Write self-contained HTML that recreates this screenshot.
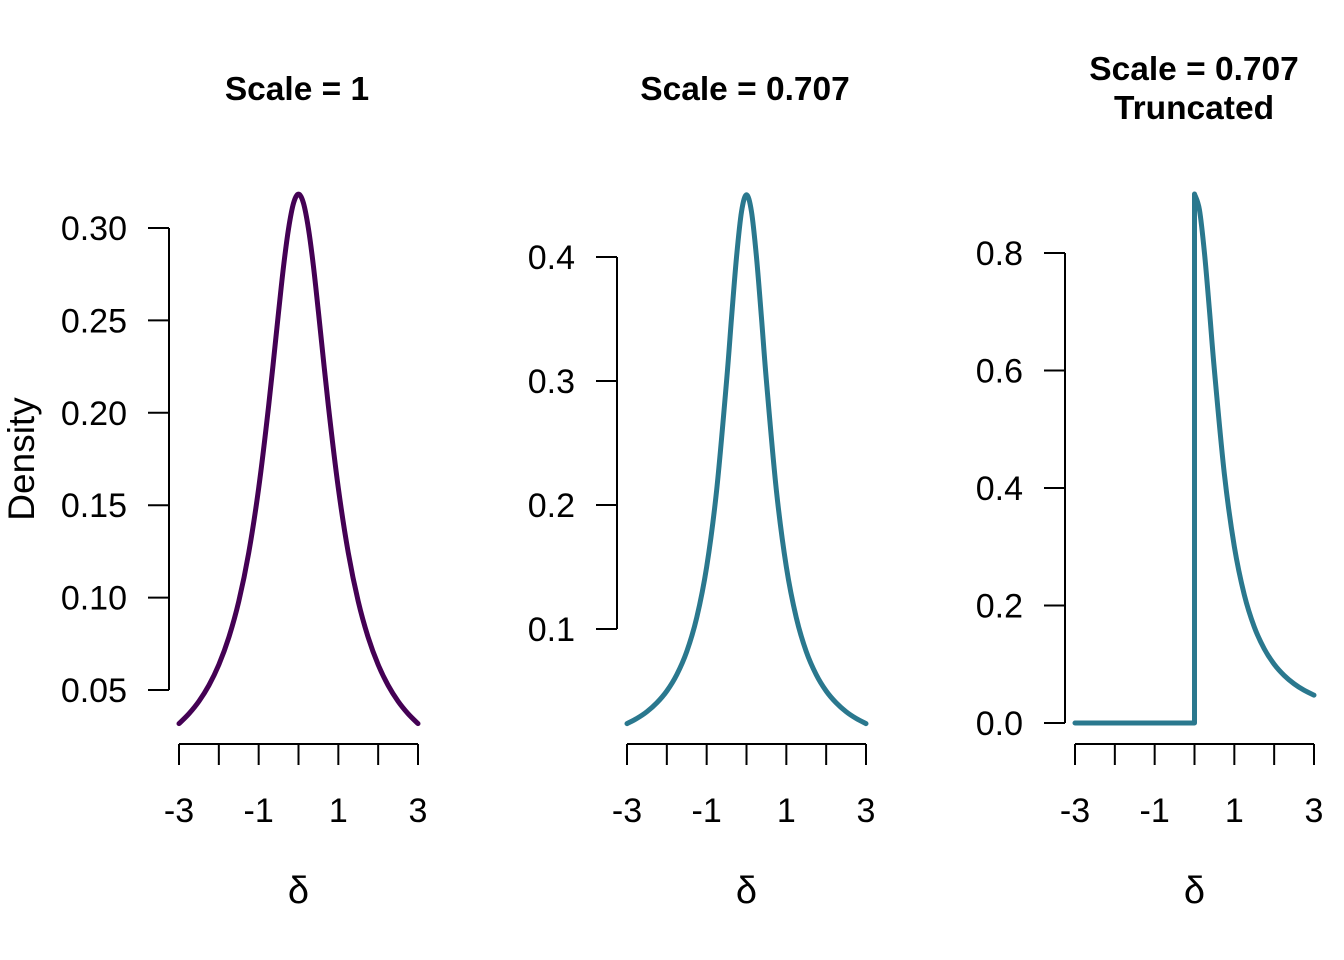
<!DOCTYPE html>
<html><head><meta charset="utf-8"><style>
html,body{margin:0;padding:0;background:#fff}
svg{display:block}
text{font-family:"Liberation Sans",Arial,sans-serif;fill:#000}
</style></head><body>
<svg id="chart" width="1344" height="960" viewBox="0 0 1344 960" xmlns="http://www.w3.org/2000/svg"></svg>
<script>
const xVals = [-3,-2.75,-2.5,-2.25,-2,-1.75,-1.5,-1.25,-1,-0.75,-0.5,-0.375,-0.25,-0.125,0,0.125,0.25,0.375,0.5,0.75,1,1.25,1.5,1.75,2,2.25,2.5,2.75,3];
const densScale1 = [0.0318,0.0372,0.0439,0.0525,0.0637,0.0784,0.0979,0.1242,0.1592,0.2037,0.2546,0.2793,0.2996,0.3134,0.3183,0.3134,0.2996,0.2793,0.2546,0.2037,0.1592,0.1242,0.0979,0.0784,0.0637,0.0525,0.0439,0.0372,0.0318];
const densScale707 = [0.0237,0.0279,0.0333,0.0405,0.0500,0.0632,0.0818,0.1091,0.1501,0.2118,0.3001,0.3514,0.4001,0.4366,0.4502,0.4366,0.4001,0.3514,0.3001,0.2118,0.1501,0.1091,0.0818,0.0632,0.0500,0.0405,0.0333,0.0279,0.0237];
const densTrunc = [0,0,0,0,0,0,0,0,0,0,0,0,0,0,0.9004,0.8732,0.8002,0.7028,0.6002,0.4236,0.3002,0.2182,0.1636,0.1264,0.1000,0.0810,0.0667,0.0558,0.0474];
const xTicks = [-3,-2,-1,0,1,2,3];
const xTickLabels = ["-3","","-1","","1","","3"];
const yTicks1 = [0.05,0.10,0.15,0.20,0.25,0.30];
const yTickLabels1 = ["0.05","0.10","0.15","0.20","0.25","0.30"];
const yTicks2 = [0.1,0.2,0.3,0.4];
const yTickLabels2 = ["0.1","0.2","0.3","0.4"];
const yTicks3 = [0,0.2,0.4,0.6,0.8];
const yTickLabels3 = ["0.0","0.2","0.4","0.6","0.8"];

const NS="http://www.w3.org/2000/svg";
const svg=document.getElementById('chart');
function mk(tag,attrs,parent){const e=document.createElementNS(NS,tag);for(const k in attrs)e.setAttribute(k,attrs[k]);(parent||svg).appendChild(e);return e;}

const panels=[
 {name:'scale-1',x0:179,x1:418,ax:169,yA:0.05,pA:690,yB:0.30,pB:228,yt:yTicks1,yl:yTickLabels1,ys:densScale1,color:'#440154',title:['Scale = 1'],cx:297,trunc:false},
 {name:'scale-0707',x0:627,x1:866,ax:617,yA:0.1,pA:629,yB:0.4,pB:257,yt:yTicks2,yl:yTickLabels2,ys:densScale707,color:'#2A788E',title:['Scale = 0.707'],cx:745,trunc:false},
 {name:'scale-0707-truncated',x0:1075,x1:1314,ax:1065,yA:0,pA:723,yB:0.8,pB:253,yt:yTicks3,yl:yTickLabels3,ys:densTrunc,color:'#2A788E',title:['Scale = 0.707','Truncated'],cx:1194,trunc:true}
];

panels.forEach(p=>{
  const g=mk('g',{});
  
  
  const X=v=>p.x0+(v+3)/6*(p.x1-p.x0);
  const Y=v=>p.pA+(v-p.yA)/(p.yB-p.yA)*(p.pB-p.pA);
  p.title.forEach((t,i)=>{
    const tt=mk('text',{x:p.cx,y:(p.title.length>1?80+i*39:100),'text-anchor':'middle','font-size':33.5,'font-weight':'bold'},g);
    
    
    tt.textContent=t;
  });
  const xa=mk('g',{},g);
  
  
  mk('line',{x1:X(xTicks[0]),x2:X(xTicks[xTicks.length-1]),y1:744,y2:744,stroke:'#000','stroke-width':2},xa);
  xTicks.forEach((v,i)=>{
    mk('line',{x1:X(v),x2:X(v),y1:744,y2:765,stroke:'#000','stroke-width':2},xa);
    if(xTickLabels[i]){const t=mk('text',{x:X(v),y:822,'text-anchor':'middle','font-size':34},xa);
      
      
      t.textContent=xTickLabels[i];}
  });
  const xt=mk('text',{x:(p.x0+p.x1)/2,y:903,'text-anchor':'middle','font-size':38},g);
  
  
  xt.textContent='δ';
  const ya=mk('g',{},g);
  
  
  mk('line',{x1:p.ax,x2:p.ax,y1:Y(p.yt[0]),y2:Y(p.yt[p.yt.length-1]),stroke:'#000','stroke-width':2},ya);
  p.yt.forEach((v,i)=>{
    mk('line',{x1:p.ax-21,x2:p.ax,y1:Y(v),y2:Y(v),stroke:'#000','stroke-width':2},ya);
    const t=mk('text',{x:p.ax-42,y:Y(v)+12,'text-anchor':'end','font-size':34},ya);
    
    
    t.textContent=p.yl[i];
  });
  let d='';
  if(p.trunc){
    const idx0=xVals.indexOf(0);
    d='M'+X(xVals[0])+','+Y(0)+' L'+X(0)+','+Y(0)+' L'+X(0)+','+Y(p.ys[idx0]);
    const pts=[];for(let i=idx0;i<xVals.length;i++)pts.push([X(xVals[i]),Y(p.ys[i])]);
    d+=spline(pts);
  } else {
    const pts=xVals.map((v,i)=>[X(v),Y(p.ys[i])]);
    d='M'+pts[0][0]+','+pts[0][1]+spline(pts);
  }
  const c=mk('path',{d:d,fill:'none',stroke:p.color,'stroke-width':5,'stroke-linejoin':'round','stroke-linecap':'round'},g);
  
  
});
function spline(pts){
  let s='';
  for(let i=0;i<pts.length-1;i++){
    const p0=pts[Math.max(0,i-1)],p1=pts[i],p2=pts[i+1],p3=pts[Math.min(pts.length-1,i+2)];
    const c1=[p1[0]+(p2[0]-p0[0])/6,p1[1]+(p2[1]-p0[1])/6];
    const c2=[p2[0]-(p3[0]-p1[0])/6,p2[1]-(p3[1]-p1[1])/6];
    s+=' C'+c1[0]+','+c1[1]+' '+c2[0]+','+c2[1]+' '+p2[0]+','+p2[1];
  }
  return s;
}
const yl=mk('text',{x:0,y:0,'text-anchor':'middle','font-size':37,transform:'translate(34,459) rotate(-90)'});


yl.textContent='Density';
</script>
</body></html>
